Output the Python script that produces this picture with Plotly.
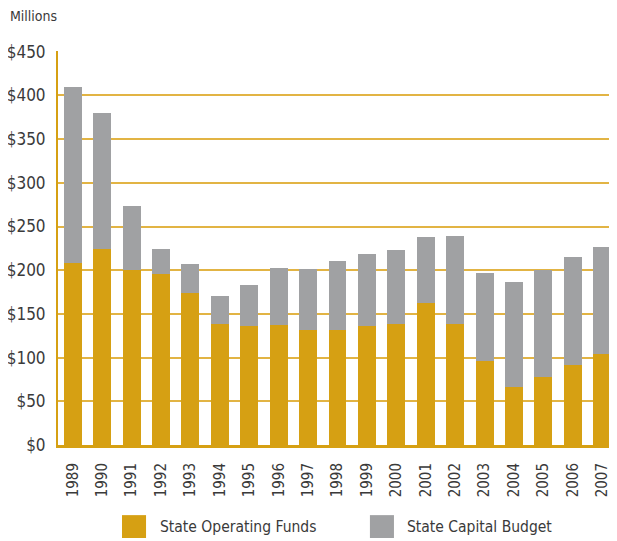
import plotly.graph_objects as go

years = [str(y) for y in range(1989, 2008)]
operating_funds = [208, 224, 200, 196, 174, 138.5, 136, 137, 132, 132,
                   136, 138.5, 162, 138.5, 96, 66, 77.7, 91.4, 104]
capital_budget = [202, 156, 74, 28, 33, 32.5, 47, 65, 69, 79,
                  82, 84.5, 76, 100.5, 100.5, 121, 122, 124, 122]
y_ticks = [0, 50, 100, 150, 200, 250, 300, 350, 400, 450]
y_tick_labels = ['$' + str(v) for v in y_ticks]

GOLD = '#D6A013'
GREY = '#A0A1A3'
GRID = '#E2B444'
TEXT = '#3a3a3a'
FONT = 'DejaVu Sans Condensed, Liberation Sans Narrow, sans-serif'

fig = go.Figure()
fig.add_bar(x=years, y=operating_funds, name='State Operating Funds',
            marker_color=GOLD, marker_line_width=0)
fig.add_bar(x=years, y=capital_budget, name='State Capital Budget',
            marker_color=GREY, marker_line_width=0)

# page body has an 8px margin, so the figure is 8px smaller each way
fig.update_layout(
    width=609, height=533,
    barmode='stack', bargap=0.39,
    plot_bgcolor='white', paper_bgcolor='white',
    margin=dict(l=50, r=0, t=43, b=96, autoexpand=False),
    font=dict(family=FONT, color=TEXT),
    showlegend=False,
)
fig.update_xaxes(
    tickangle=-90, tickfont=dict(size=15), ticks='', ticklabelstandoff=9,
    showline=True, linecolor=GOLD, linewidth=3, showgrid=False,
)
fig.update_yaxes(
    range=[0, 450.8], tickvals=y_ticks, ticktext=y_tick_labels,
    tickfont=dict(size=17), ticks='', ticklabelstandoff=7,
    showline=True, linecolor=GOLD, linewidth=2,
    showgrid=True, gridcolor=GRID, gridwidth=2, zeroline=False,
)

fig.add_annotation(text='Millions', xref='paper', yref='paper', x=-0.089, y=1.089,
                   xanchor='left', yanchor='middle', showarrow=False,
                   font=dict(size=14, color=TEXT))

# legend: swatch + label pairs below the chart
legend_items = [('State Operating Funds', GOLD, 0.1145), ('State Capital Budget', GREY, 0.558)]
for label, color, x0 in legend_items:
    fig.add_shape(type='rect', xref='paper', yref='paper',
                  x0=x0, x1=x0 + 0.043, y0=-0.178, y1=-0.236,
                  fillcolor=color, line_width=0)
    fig.add_annotation(text=label, xref='paper', yref='paper', x=x0 + 0.0635, y=-0.207,
                       xanchor='left', yanchor='middle', showarrow=False,
                       font=dict(size=15.5, color=TEXT))

fig.write_html('out.html')
